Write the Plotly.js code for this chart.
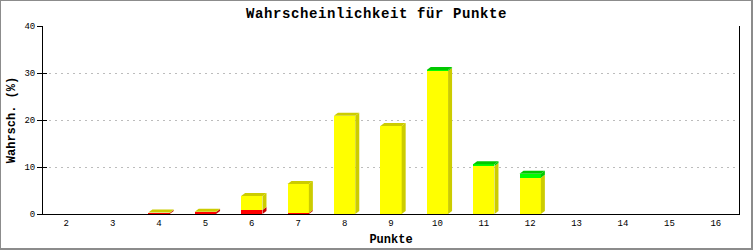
<!DOCTYPE html>
<html>
<head>
<meta charset="utf-8">
<script src="https://cdn.plot.ly/plotly-3.0.1.min.js"></script>
<style>
  html, body { margin: 0; padding: 0; background: #fff; }
  #wrap { position: relative; width: 753px; height: 250px; }
  #frame { position: absolute; left: 0; top: 0; width: 753px; height: 250px; box-sizing: border-box;
           border-top: 1px solid #8c8c8c; border-left: 1px solid #8c8c8c;
           border-right: 2px solid #8c8c8c; border-bottom: 2px solid #8c8c8c; pointer-events: none; }
  .gtitle { letter-spacing: 0.6px; }
</style>
</head>
<body>
<div id="wrap"><div id="chart"></div><div id="frame"></div></div>
<script>
// ---- data ----
var categories = [2, 3, 4, 5, 6, 7, 8, 9, 10, 11, 12, 13, 14, 15, 16];
var tickLabels = ['2','3','4','5','6','7','8','9','10','11','12','13','14','15','16'];
var redValues    = [0, 0, 0.2, 0.4, 0.85, 0.2, 0, 0, 0, 0, 0, 0, 0, 0, 0];
var yellowValues = [0, 0, 0.1, 0.1, 3.0, 6.2, 20.9, 18.7, 30.4, 10.2, 7.7, 0, 0, 0, 0];
var greenValues  = [0, 0, 0, 0, 0, 0, 0, 0, 0.25, 0.4, 0.85, 0, 0, 0, 0];

// ---- styling ----
var W = 753, H = 250;
var M = {l: 43, r: 14, t: 26, b: 36};
var xRange = [1.5, 16.5], yRange = [0, 40];
var barWidth = 0.46;
var depthX = 4, depthY = 3;   // pixels
var mono = 'Liberation Mono, DejaVu Sans Mono, monospace';

var series = [
  {name: 'rot',  values: redValues,    color: '#ff0000', dark: '#c80000'},
  {name: 'gelb', values: yellowValues, color: '#ffff00', dark: '#cccc00'},
  {name: 'grün', values: greenValues,  color: '#00ff00', dark: '#00c800'}
];

var traces = series.map(function (s) {
  return {
    type: 'bar', x: categories, y: s.values, width: barWidth, name: s.name,
    marker: {color: s.color, line: {width: 0}}, hoverinfo: 'x+y', showlegend: false
  };
});

// convert pixel depth into data units
var pxPerX = (W - M.l - M.r) / (xRange[1] - xRange[0]);
var pxPerY = (H - M.t - M.b) / (yRange[1] - yRange[0]);
var dxd = depthX / pxPerX, dyd = depthY / pxPerY;

var shapes = [];
categories.forEach(function (c, i) {
  var base = 0, topColor = null, L = c - barWidth / 2, R = c + barWidth / 2;
  series.forEach(function (s) {
    var v = s.values[i];
    if (v > 0) {
      var top = base + v;
      shapes.push({
        type: 'path', xref: 'x', yref: 'y', layer: 'above', line: {width: 0}, fillcolor: s.dark,
        path: 'M' + R + ',' + base + ' L' + (R + dxd) + ',' + (base + dyd) +
              ' L' + (R + dxd) + ',' + (top + dyd) + ' L' + R + ',' + top + ' Z'
      });
      base = top; topColor = s.dark;
    }
  });
  if (topColor) {
    shapes.push({
      type: 'path', xref: 'x', yref: 'y', layer: 'above', line: {width: 0}, fillcolor: topColor,
      path: 'M' + L + ',' + base + ' L' + R + ',' + base + ' L' + (R + dxd) + ',' + (base + dyd) +
            ' L' + (L + dxd) + ',' + (base + dyd) + ' Z'
    });
  }
});

var layout = {
  width: W, height: H, margin: {l: M.l, r: M.r, t: M.t, b: M.b, pad: 0},
  paper_bgcolor: '#fff', plot_bgcolor: '#fff', barmode: 'stack', showlegend: false,
  font: {family: mono, color: '#000'},
  title: {text: 'Wahrscheinlichkeit für Punkte', font: {family: mono, size: 14, weight: 'bold', color: '#000'},
          xref: 'container', x: 0.5, xanchor: 'center', yref: 'container', y: 1 - 13 / 250, yanchor: 'middle'},
  xaxis: {
    range: xRange, tickvals: categories, ticktext: tickLabels, ticks: '', showgrid: false, zeroline: false,
    showline: true, linecolor: '#000', linewidth: 1, tickfont: {family: mono, size: 9, color: '#000'},
    title: {text: 'Punkte', font: {family: mono, size: 12, weight: 'bold', color: '#000'}, standoff: 6},
    automargin: false, fixedrange: true
  },
  yaxis: {
    range: yRange, tickvals: [0, 10, 20, 30, 40], ticks: 'outside', ticklen: 5, tickcolor: '#000', tickwidth: 1,
    showline: true, mirror: true, linecolor: '#000', linewidth: 1, zeroline: false,
    showgrid: true, gridcolor: '#bcbcbc', griddash: '2px,4px', gridwidth: 1,
    tickfont: {family: mono, size: 9, color: '#000'},
    title: {text: 'Wahrsch. (%)', font: {family: mono, size: 12, weight: 'bold', color: '#000'}, standoff: 6},
    automargin: false, fixedrange: true
  },
  yaxis2: {
    overlaying: 'y', range: yRange, tickvals: [10, 20, 30, 40], ticks: 'inside', ticklen: 4, tickcolor: '#000',
    showticklabels: false, showgrid: false, zeroline: false, showline: false, side: 'left', fixedrange: true
  },
  shapes: shapes
};

traces.push({type: 'scatter', x: [categories[0]], y: [0], yaxis: 'y2', mode: 'markers',
             marker: {opacity: 0}, hoverinfo: 'skip', showlegend: false});

Plotly.newPlot('chart', traces, layout, {displayModeBar: false, staticPlot: true});
</script>
</body>
</html>
